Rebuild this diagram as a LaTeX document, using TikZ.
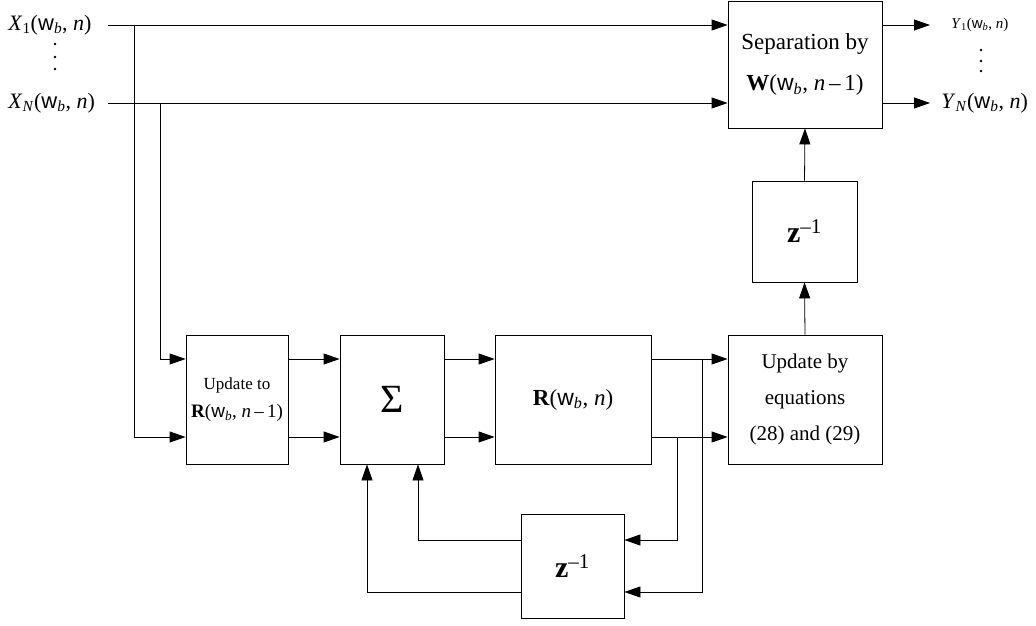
\documentclass[tikz,border=0pt]{standalone}
\usepackage{fontspec}
\setmainfont{Liberation Serif}
\setsansfont{Liberation Sans}
\usetikzlibrary{arrows.meta}
\newcommand{\wb}{\textsf{w}\textsubscript{\textit{b}}}
\begin{document}
\begin{tikzpicture}[x=1pt,y=-1pt,line width=0.8pt,
  box/.style={draw,line width=0.8pt,inner sep=0pt,align=center},
  ar/.style={-{Triangle[length=16pt,width=11pt]}},
  lbl/.style={inner sep=0pt},
  dot/.style={fill,circle,inner sep=0pt,minimum size=2.6pt}]
\useasboundingbox (0,0) rectangle (1036,626);
% rows
\coordinate (rA) at (0,359);
\coordinate (rB) at (0,437);
% boxes
\node[box,minimum width=154,minimum height=127,font=\fontsize{23}{40}\selectfont] (sep) at (805,64.5)
  {Separation by\\[1pt]\textbf{W}(\wb, \textit{n}\,–\,1)};
\node[box,minimum width=105,minimum height=101,font=\fontsize{30}{32}\selectfont] (z1) at (804.5,231.5)
  {\textbf{z}\textsuperscript{–1}};
\node[box,minimum width=102,minimum height=129,font=\fontsize{17}{30}\selectfont] (upd) at (237,399.5)
  {Update to\\[-2pt]{\fontsize{19}{20}\selectfont\textbf{R}(\wb, \textit{n}\,–\,1)}};
\node[box,minimum width=104,minimum height=129,font=\fontsize{40}{42}\selectfont] (sum) at (392,399.5) {Σ};
\node[box,minimum width=156,minimum height=129,font=\fontsize{23}{24}\selectfont] (R) at (573,399.5)
  {\textbf{R}(\wb, \textit{n})};
\node[box,minimum width=154,minimum height=129,font=\fontsize{21}{36}\selectfont] (eq) at (805,399.5)
  {Update by\\equations\\(28) and (29)};
\node[box,minimum width=103,minimum height=104,font=\fontsize{30}{32}\selectfont] (z2) at (572.5,566)
  {\textbf{z}\textsuperscript{–1}};
% labels
\node[lbl,anchor=west,font=\fontsize{22}{24}\selectfont] (x1) at (8,25) {\textit{X}\textsubscript{1}(\wb, \textit{n})};
\node[lbl,anchor=west,font=\fontsize{22}{24}\selectfont] (xn) at (8,103) {\textit{X}\textsubscript{\textit{N}}(\wb, \textit{n})};
\node[dot] (xd1) at (55,44) {};
\node[dot] (xd2) at (55,57) {};
\node[dot] (xd3) at (55,69) {};
\node[lbl,anchor=west,font=\fontsize{15}{17}\selectfont] (y1) at (951,25) {\textit{Y}\textsubscript{1}(\wb, \textit{n})};
\node[dot] (yd1) at (981,50) {};
\node[dot] (yd2) at (981,61) {};
\node[dot] (yd3) at (981,71) {};
\node[lbl,anchor=west,font=\fontsize{22}{24}\selectfont] (yn) at (941,103) {\textit{Y}\textsubscript{\textit{N}}(\wb, \textit{n})};
% input lines
\coordinate (x1s) at (108,25);
\coordinate (xns) at (108,103);
\coordinate (b1) at (134,25);
\coordinate (b2) at (160,103);
\draw[ar] (x1s) -- (sep.west |- x1s);
\draw[ar] (xns) -- (sep.west |- xns);
\draw[ar] (b1) |- (upd.west |- rB);
\draw[ar] (b2) |- (upd.west |- rA);
% outputs
\draw[ar] (sep.east |- x1s) -- (930,25);
\draw[ar] (sep.east |- xns) -- (930,103);
% chain
\draw[ar] (upd.east |- rA) -- (sum.west |- rA);
\draw[ar] (upd.east |- rB) -- (sum.west |- rB);
\draw[ar] (sum.east |- rA) -- (R.west |- rA);
\draw[ar] (sum.east |- rB) -- (R.west |- rB);
\draw[ar] (R.east |- rA) -- (eq.west |- rA);
\draw[ar] (R.east |- rB) -- (eq.west |- rB);
\draw[ar] (eq.north) -- (z1.south);
\draw[ar] (z1.north) -- (sep.south);
% feedback
\coordinate (fA) at (677,437);
\coordinate (fB) at (702,359);
\coordinate (zA) at (0,540);
\coordinate (zB) at (0,592);
\draw[ar] (fA) |- (z2.east |- zA);
\draw[ar] (fB) |- (z2.east |- zB);
\draw[ar] (z2.west |- zA) -| (418,0 |- sum.south);
\draw[ar] (z2.west |- zB) -| (367,0 |- sum.south);
\end{tikzpicture}
\end{document}
